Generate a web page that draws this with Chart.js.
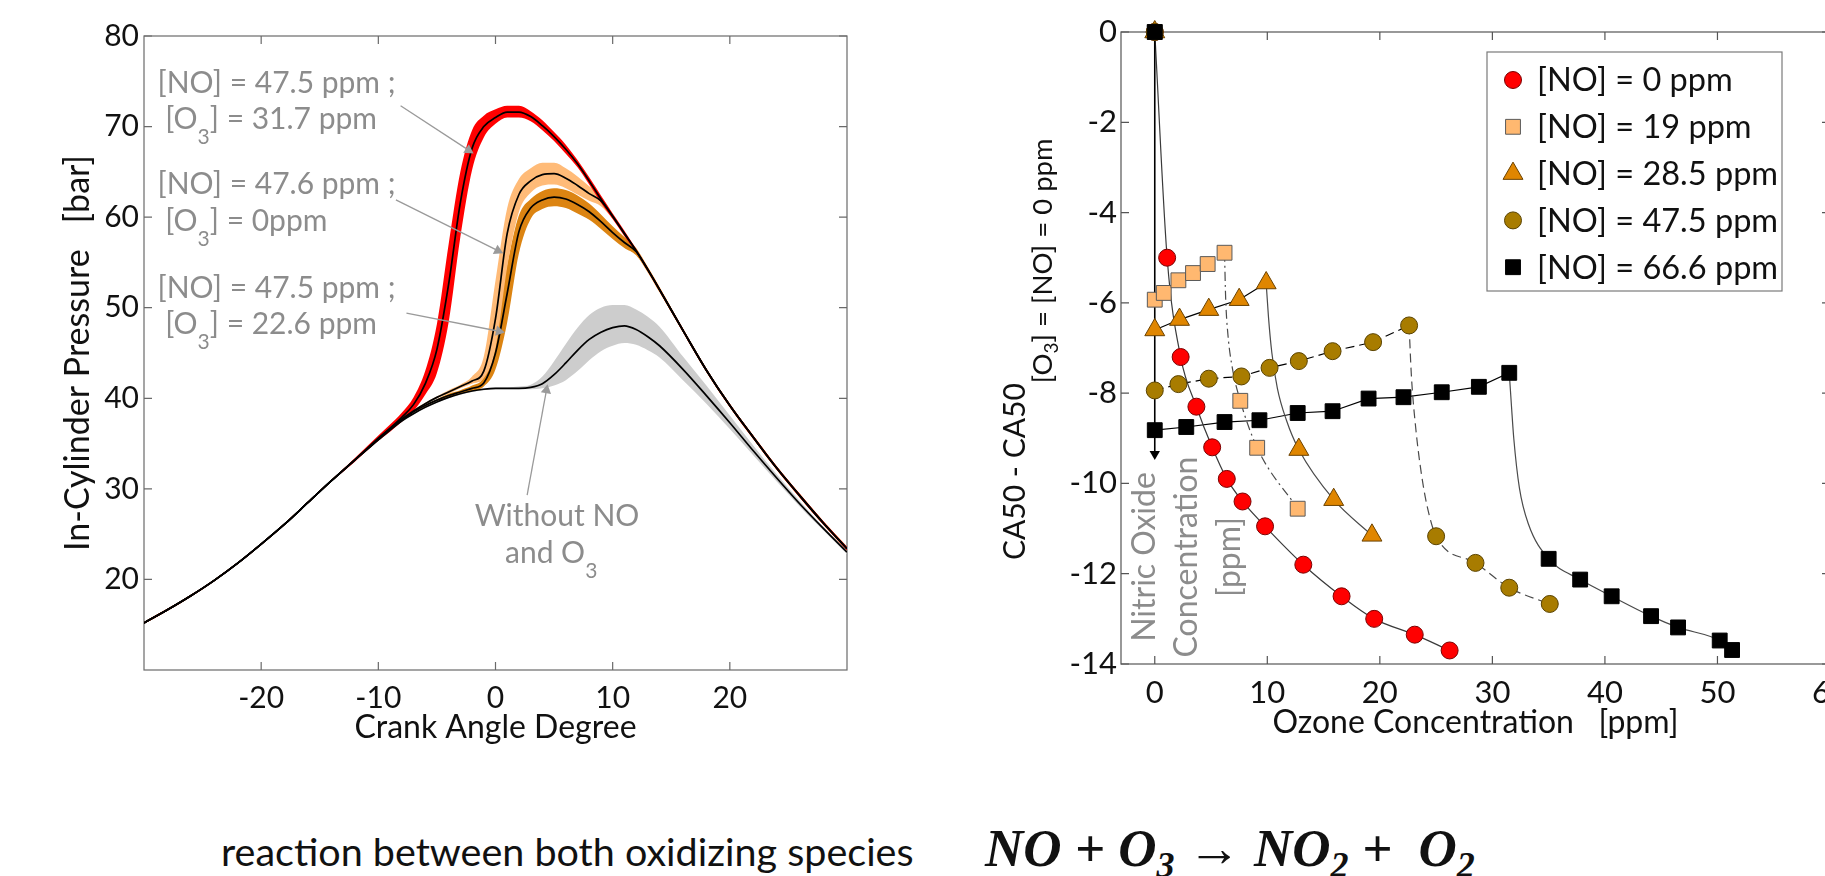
<!DOCTYPE html>
<html>
<head>
<meta charset="utf-8">
<script src="https://cdn.jsdelivr.net/npm/chart.js@4.4.1/dist/chart.umd.min.js"></script>
<style>
  html, body { margin: 0; padding: 0; overflow: hidden; background: #fff; }
  body { position: relative; width: 1825px; height: 876px; }
  .chartBox { position: absolute; top: 0; }
  #pressureBox { left: 0; }
  #ca50Box { left: 940px; }
  .caption { position: absolute; left: 221px; top: 831px; font: 39.5px Lato, sans-serif; line-height: 1; color: #111; white-space: nowrap; }
  .equation { position: absolute; left: 985px; top: 822px; font: italic bold 53px "Liberation Serif", serif; line-height: 1; color: #111; white-space: nowrap; }
  .equation sub { font-size: 0.68em; vertical-align: -0.3em; line-height: 0; }
</style>
</head>
<body>
<div class="chartBox" id="pressureBox"><canvas id="pressureChart" width="900" height="760"></canvas></div>
<div class="chartBox" id="ca50Box"><canvas id="ca50Chart" width="940" height="760"></canvas></div>
<div class="caption">reaction between both oxidizing species</div>
<div class="equation">NO + O<sub>3</sub> → NO<sub>2</sub> + &nbsp;O<sub>2</sub></div>
<script>
// left panel : in-cylinder pressure traces
const crankAngle = [-30, -28, -26, -24, -22, -20, -18, -16, -14, -12, -10,
    -9, -8, -7, -6, -5, -4, -3, -2, -1,
    0, 1, 2, 3, 4, 5, 6, 7, 8, 9, 10, 11, 12, 13, 14,
    16, 18, 20, 22, 24, 26, 28, 30]

const pressureWithout = [15.2, 16.65, 18.2, 19.9, 21.8, 23.9, 26.1, 28.5, 30.9, 33.2, 35.4,
    36.5, 37.5, 38.3, 39.0, 39.6, 40.1, 40.5, 40.8, 41.0,
    41.1, 41.1, 41.1, 41.2, 41.6, 42.6, 43.9, 45.3, 46.5, 47.3, 47.8, 48.0, 47.6, 46.8, 45.8,
    43.2, 40.3, 37.3, 34.2, 31.2, 28.3, 25.6, 23.0]
const pressureWithoutHigh = [15.3, 16.75, 18.3, 20.0, 21.9, 24.0, 26.2, 28.6, 31.0, 33.3, 35.5,
    36.6, 37.6, 38.4, 39.1, 39.7, 40.2, 40.6, 40.9, 41.1,
    41.2, 41.2, 41.3, 41.5, 42.4, 44.1, 46.0, 47.8, 49.2, 50.0, 50.3, 50.3, 49.8, 49.0, 47.9,
    44.6, 41.4, 38.1, 34.8, 31.6, 28.6, 25.8, 23.2]
const pressureWithoutLow = [15.1, 16.55, 18.1, 19.8, 21.7, 23.8, 26.0, 28.4, 30.8, 33.1, 35.3,
    36.4, 37.4, 38.2, 38.9, 39.5, 40.0, 40.4, 40.7, 40.9,
    41.0, 41.0, 41.0, 41.0, 41.1, 41.4, 42.0, 43.0, 44.2, 45.2, 45.8, 46.1, 45.9, 45.3, 44.5,
    42.0, 39.4, 36.6, 33.7, 30.8, 28.0, 25.4, 22.8]

// [NO] = 47.5 ppm ; [O3] = 31.7 ppm
const pressureOzone317 = [15.2, 16.65, 18.2, 19.9, 21.8, 23.9, 26.1, 28.5, 30.9, 33.2, 35.6,
    36.7, 37.9, 39.3, 41.6, 45.4, 52.6, 61.6, 67.6, 70.0,
    71.0, 71.6, 71.6, 71.1, 70.1, 68.9, 67.5, 65.9, 64.0, 62.0, 60.1, 58.2, 56.3, 54.2, 52.0,
    47.5, 43.1, 39.2, 35.7, 32.3, 29.2, 26.2, 23.4]
const pressureOzone317High = [15.3, 16.75, 18.3, 20.0, 21.9, 24.0, 26.2, 28.6, 31.0, 33.4, 35.9,
    37.1, 38.4, 40.1, 43.0, 48.2, 57.0, 65.0, 69.6, 71.2,
    71.9, 72.3, 72.3, 71.7, 70.7, 69.4, 68.0, 66.3, 64.4, 62.4, 60.4, 58.5, 56.5, 54.4, 52.2,
    47.7, 43.3, 39.4, 35.9, 32.5, 29.4, 26.4, 23.6]
const pressureOzone317Low = [15.1, 16.55, 18.1, 19.8, 21.7, 23.8, 26.0, 28.4, 30.8, 33.0, 35.3,
    36.3, 37.4, 38.6, 40.4, 42.8, 48.4, 57.8, 65.2, 68.8,
    70.3, 71.0, 71.0, 70.6, 69.6, 68.4, 67.0, 65.5, 63.6, 61.6, 59.8, 57.9, 56.1, 54.0, 51.8,
    47.3, 42.9, 39.0, 35.5, 32.1, 29.0, 26.0, 23.2]

// [NO] = 47.6 ppm ; [O3] = 0 ppm
const pressureOzone0 = [15.2, 16.65, 18.2, 19.9, 21.8, 23.9, 26.1, 28.5, 30.9, 33.2, 35.5,
    36.6, 37.7, 38.6, 39.4, 40.1, 40.7, 41.3, 41.9, 43.0,
    48.8, 58.2, 62.5, 64.0, 64.7, 64.8, 64.3, 63.5, 62.6, 61.8, 60.1, 58.2, 56.3, 54.2, 52.0,
    47.5, 43.1, 39.2, 35.7, 32.3, 29.2, 26.2, 23.4]
const pressureOzone0High = [15.3, 16.75, 18.3, 20.0, 21.9, 24.0, 26.2, 28.6, 31.0, 33.3, 35.6,
    36.7, 37.8, 38.7, 39.5, 40.2, 40.9, 41.5, 42.4, 44.6,
    53.0, 61.0, 64.2, 65.4, 66.0, 66.0, 65.4, 64.5, 63.4, 62.3, 60.4, 58.4, 56.5, 54.4, 52.2,
    47.7, 43.3, 39.4, 35.9, 32.5, 29.4, 26.4, 23.6]
const pressureOzone0Low = [15.1, 16.55, 18.1, 19.8, 21.7, 23.8, 26.0, 28.4, 30.8, 33.1, 35.4,
    36.5, 37.6, 38.5, 39.3, 40.0, 40.5, 41.1, 41.6, 42.2,
    45.5, 54.5, 60.6, 62.7, 63.5, 63.6, 63.2, 62.5, 61.8, 61.2, 59.8, 58.0, 56.1, 54.0, 51.8,
    47.3, 42.9, 39.0, 35.5, 32.1, 29.0, 26.0, 23.2]

// [NO] = 47.5 ppm ; [O3] = 22.6 ppm
const pressureOzone226 = [15.2, 16.65, 18.2, 19.9, 21.8, 23.9, 26.1, 28.5, 30.9, 33.2, 35.5,
    36.6, 37.6, 38.5, 39.2, 39.8, 40.3, 40.7, 41.1, 41.7,
    45.0, 51.6, 58.4, 61.0, 61.9, 62.2, 62.0, 61.4, 60.6, 59.5, 58.3, 57.2, 56.2, 54.2, 52.0,
    47.5, 43.1, 39.2, 35.7, 32.3, 29.2, 26.2, 23.4]
const pressureOzone226High = [15.3, 16.75, 18.3, 20.0, 21.9, 24.0, 26.2, 28.6, 31.0, 33.3, 35.6,
    36.7, 37.7, 38.6, 39.3, 39.9, 40.5, 40.9, 41.4, 42.4,
    47.8, 54.8, 60.2, 62.0, 62.9, 63.2, 63.0, 62.4, 61.5, 60.3, 59.0, 57.8, 56.6, 54.5, 52.3,
    47.7, 43.3, 39.4, 35.9, 32.5, 29.4, 26.4, 23.6]
const pressureOzone226Low = [15.1, 16.55, 18.1, 19.8, 21.7, 23.8, 26.0, 28.4, 30.8, 33.1, 35.4,
    36.5, 37.5, 38.4, 39.1, 39.7, 40.1, 40.5, 40.8, 41.3,
    43.2, 48.4, 56.0, 59.8, 60.9, 61.2, 61.0, 60.4, 59.7, 58.7, 57.6, 56.6, 55.8, 53.9, 51.7,
    47.3, 42.9, 39.0, 35.5, 32.1, 29.0, 26.0, 23.2]

const angleTicks = [-20, -10, 0, 10, 20]
const pressureTicks = [20, 30, 40, 50, 60, 70, 80]

// arrows of the text notes : [start, tip]
const arrowOzone317 = {angle: [-8.1, -2.3], pressure: [72.3, 67.4]}
const arrowOzone0 = {angle: [-8.5, 0.2], pressure: [61.9, 56.3]}
const arrowOzone226 = {angle: [-7.6, 0.3], pressure: [49.4, 47.4]}
const arrowWithout = {angle: [2.7, 4.35], pressure: [29.3, 40.9]}

// right panel : CA50 shift against ozone
const ozoneNo0 = [0, 1.1, 2.3, 3.7, 5.1, 6.4, 7.8, 9.8, 13.2, 16.6, 19.5, 23.1, 26.2]
const ca50No0 = [0, -5.0, -7.2, -8.3, -9.2, -9.9, -10.4, -10.95, -11.8, -12.5, -13.0, -13.35, -13.7]

const ozoneNo19 = [0, 0, 0.8, 2.1, 3.4, 4.7, 6.2, 7.6, 9.1, 12.7]
const ca50No19 = [0, -5.93, -5.78, -5.5, -5.34, -5.14, -4.89, -8.17, -9.21, -10.56]
const fitOzoneNo19 = [6.2, 6.3, 6.5, 6.9, 7.6, 9.1, 12.7]
const fitCa50No19 = [-4.89, -5.9, -6.7, -7.45, -8.17, -9.21, -10.56]

const ozoneNo28 = [0, 0, 2.2, 4.8, 7.5, 9.9, 12.8, 15.9, 19.3]
const ca50No28 = [0, -6.6, -6.37, -6.15, -5.93, -5.56, -9.25, -10.36, -11.15]
const fitOzoneNo28 = [9.9, 10.1, 10.4, 10.9, 11.7, 12.8, 15.9, 19.3]
const fitCa50No28 = [-5.56, -6.3, -7.1, -7.9, -8.6, -9.25, -10.36, -11.15]

const ozoneNo47 = [0, 0, 2.1, 4.8, 7.7, 10.2, 12.8, 15.8, 19.4, 22.6, 25.0, 28.5, 31.5, 35.1]
const ca50No47 = [0, -7.94, -7.8, -7.68, -7.63, -7.44, -7.29, -7.07, -6.87, -6.5, -11.17, -11.76, -12.31, -12.67]
const fitOzoneNo47 = [22.6, 22.8, 23.2, 23.7, 24.2, 25.0, 28.5, 31.5, 35.1]
const fitCa50No47 = [-6.5, -7.6, -8.8, -9.8, -10.5, -11.17, -11.76, -12.31, -12.67]

const ozoneNo66 = [0, 0, 2.8, 6.2, 9.3, 12.7, 15.8, 19.0, 22.1, 25.5, 28.8, 31.5, 35.0, 37.8, 40.6, 44.1, 46.5, 50.2, 51.3]
const ca50No66 = [0, -8.82, -8.75, -8.64, -8.6, -8.44, -8.4, -8.12, -8.09, -7.98, -7.86, -7.55, -11.67, -12.13, -12.5, -12.94, -13.19, -13.48, -13.69]
const fitOzoneNo66 = [31.5, 31.7, 31.9, 32.4, 33.2, 35.0, 37.8, 40.6, 44.1, 46.5, 50.2, 51.3]
const fitCa50No66 = [-7.55, -8.3, -9.0, -10.1, -10.9, -11.67, -12.13, -12.5, -12.94, -13.19, -13.48, -13.69]

const noAxisOzone = [0, 0]
const noAxisCa50 = [0, -9.35]

const noLabels = ['[NO] = 0 ppm', '[NO] = 19 ppm', '[NO] = 28.5 ppm', '[NO] = 47.5 ppm', '[NO] = 66.6 ppm']
const ozoneTicks = [0, 10, 20, 30, 40, 50, 60]
const ca50Ticks = [0, -2, -4, -6, -8, -10, -12, -14]

const seriesStyles = [
    {shape: 'circle', radius: 8.5, fill: '#ff0000', edge: '#7a0000'},
    {shape: 'rect', radius: 10.5, fill: '#ffb870', edge: '#5a5a5a'},
    {shape: 'triangle', radius: 11.5, fill: '#e08600', edge: '#6b4200'},
    {shape: 'circle', radius: 8.5, fill: '#a87c00', edge: '#5a4300'},
    {shape: 'rect', radius: 10.5, fill: '#000000', edge: '#000000'},
]

const fontFamily = 'Lato, "Open Sans", sans-serif'
const noteGray = '#8c8c8c'

const toPoints = (xs, ys) => xs.map((x, i) => ({x, y: ys[i]}))

// text with sub/superscript levels : parts = [[text, level], ...]
const partsWidth = (ctx, parts, levels) => parts.reduce((sum, [text, level]) => {
    ctx.font = `${levels[level].size}px ${fontFamily}`
    return sum + ctx.measureText(text).width
}, 0)

const drawParts = (ctx, parts, x, y, levels) => {
    let cursor = x
    parts.forEach(([text, level]) => {
        ctx.font = `${levels[level].size}px ${fontFamily}`
        ctx.fillText(text, cursor, y + levels[level].shift)
        cursor += ctx.measureText(text).width
    })
}

const matlabAxes = {
    id: 'matlabAxes',
    beforeDatasetsDraw(chart, args, opts) {
        const {ctx, chartArea: area, scales: {x, y}} = chart
        const len = opts.tickLength
        ctx.save()
        ctx.strokeStyle = opts.color
        ctx.lineWidth = opts.lineWidth
        ctx.strokeRect(area.left, area.top, area.width, area.height)
        ctx.beginPath()
        x.ticks.forEach(t => {
            const px = x.getPixelForValue(t.value)
            ctx.moveTo(px, area.bottom)
            ctx.lineTo(px, area.bottom - len)
            ctx.moveTo(px, area.top)
            ctx.lineTo(px, area.top + len)
        })
        y.ticks.forEach(t => {
            const py = y.getPixelForValue(t.value)
            ctx.moveTo(area.left, py)
            ctx.lineTo(area.left + len, py)
            ctx.moveTo(area.right, py)
            ctx.lineTo(area.right - len, py)
        })
        ctx.stroke()
        ctx.restore()
    }
}

const headRotation = ctx => {
    const {x, y} = ctx.chart.scales
    const data = ctx.dataset.data
    const dx = x.getPixelForValue(data[1].x) - x.getPixelForValue(data[0].x)
    const dy = y.getPixelForValue(data[1].y) - y.getPixelForValue(data[0].y)
    return Math.atan2(dx, -dy) * 180 / Math.PI
}

const bandSets = (high, low, color) => [
    {data: toPoints(crankAngle, high), borderColor: 'rgba(0,0,0,0)', borderWidth: 0, pointRadius: 0,
        cubicInterpolationMode: 'monotone', fill: false, order: 3},
    {data: toPoints(crankAngle, low), borderColor: 'rgba(0,0,0,0)', borderWidth: 0, pointRadius: 0,
        cubicInterpolationMode: 'monotone', fill: '-1', backgroundColor: color, order: 3},
]

const meanSet = values => ({
    data: toPoints(crankAngle, values), borderColor: '#000', borderWidth: 1.7, pointRadius: 0,
    cubicInterpolationMode: 'monotone', fill: false, order: 2
})

const arrowSet = (arrow, color) => ({
    data: toPoints(arrow.angle, arrow.pressure), borderColor: color, borderWidth: 1.3, tension: 0,
    pointRadius: [0, 6], pointStyle: 'triangle', pointBackgroundColor: color, pointBorderWidth: 0,
    pointRotation: headRotation, fill: false, order: 1, clip: false
})

const pressureNoteLevels = [{size: 30, shift: 0}, {size: 21, shift: 15}]
const pressureNotes = [
    {angle: -28.85, pressure: 74.9, parts: [['[NO] = 47.5 ppm ;', 0]]},
    {angle: -28.85, pressure: 70.95, parts: [[' [O', 0], ['3', 1], ['] = 31.7 ppm', 0]]},
    {angle: -28.85, pressure: 63.8, parts: [['[NO] = 47.6 ppm ;', 0]]},
    {angle: -28.85, pressure: 59.7, parts: [[' [O', 0], ['3', 1], ['] = 0ppm', 0]]},
    {angle: -28.85, pressure: 52.3, parts: [['[NO] = 47.5 ppm ;', 0]]},
    {angle: -28.85, pressure: 48.3, parts: [[' [O', 0], ['3', 1], ['] = 22.6 ppm', 0]]},
    {angle: 5.25, pressure: 27.1, parts: [['Without NO', 0]], center: true},
    {angle: 4.75, pressure: 23.0, parts: [['and O', 0], ['3', 1]], center: true},
]

const pressureNotesPlugin = {
    id: 'pressureNotes',
    afterDatasetsDraw(chart) {
        const {ctx, scales: {x, y}} = chart
        ctx.save()
        ctx.fillStyle = noteGray
        ctx.textBaseline = 'alphabetic'
        pressureNotes.forEach(note => {
            let px = x.getPixelForValue(note.angle)
            const py = y.getPixelForValue(note.pressure) + 11
            if (note.center) px -= partsWidth(ctx, note.parts, pressureNoteLevels) / 2
            drawParts(ctx, note.parts, px, py, pressureNoteLevels)
        })
        ctx.restore()
    }
}

const tickFont = size => ({family: fontFamily, size})

new Chart(document.querySelector('#pressureChart'), {
    type: 'line',
    data: {
        datasets: [
            ...bandSets(pressureOzone317High, pressureOzone317Low, '#ff0000'),
            ...bandSets(pressureOzone0High, pressureOzone0Low, '#ffbb78'),
            ...bandSets(pressureOzone226High, pressureOzone226Low, '#dc8412'),
            ...bandSets(pressureWithoutHigh, pressureWithoutLow, '#cdcdcd'),
            meanSet(pressureOzone317),
            meanSet(pressureOzone0),
            meanSet(pressureOzone226),
            meanSet(pressureWithout),
            arrowSet(arrowOzone317, '#9a9a9a'),
            arrowSet(arrowOzone0, '#9a9a9a'),
            arrowSet(arrowOzone226, '#9a9a9a'),
            arrowSet(arrowWithout, '#9a9a9a'),
        ]
    },
    options: {
        responsive: false,
        animation: false,
        events: [],
        layout: {padding: {top: 36, right: 53, bottom: 0, left: 0}},
        plugins: {
            legend: {display: false},
            tooltip: {enabled: false},
            matlabAxes: {color: '#6a6a6a', lineWidth: 1.2, tickLength: 8},
        },
        scales: {
            x: {
                type: 'linear', min: -30, max: 30,
                afterBuildTicks: scale => { scale.ticks = angleTicks.map(value => ({value})) },
                afterFit: scale => { scale.height = 90 },
                grid: {display: false, drawTicks: false},
                border: {display: false},
                ticks: {font: tickFont(30), color: '#111', padding: 10, maxRotation: 0},
                title: {display: true, text: 'Crank Angle Degree', font: tickFont(32), color: '#111', padding: {top: 0, bottom: 13}}
            },
            y: {
                type: 'linear', min: 10, max: 80,
                afterBuildTicks: scale => { scale.ticks = pressureTicks.map(value => ({value})) },
                afterFit: scale => { scale.width = 144 },
                grid: {display: false, drawTicks: false},
                border: {display: false},
                ticks: {font: tickFont(30), color: '#111', padding: 5},
                title: {display: true, text: 'In-Cylinder Pressure   [bar]', font: tickFont(34), color: '#111', padding: {top: 58, bottom: 0}}
            }
        }
    },
    plugins: [matlabAxes, pressureNotesPlugin]
})

const markerSet = (xs, ys, style, order) => ({
    data: toPoints(xs, ys), showLine: false, pointStyle: style.shape, pointRadius: style.radius,
    pointBackgroundColor: style.fill, pointBorderColor: style.edge, pointBorderWidth: 1, order, clip: false
})

const lineSet = (xs, ys, color, dash, smooth) => ({
    data: toPoints(xs, ys), borderColor: color, borderWidth: 1.2, borderDash: dash, pointRadius: 0,
    tension: 0, cubicInterpolationMode: smooth ? 'monotone' : 'default', fill: false, order: 10, clip: false
})

const dashDot = [9, 4, 2, 4]
const dashed = [9, 5]
const fitGray = '#4a4a4a'

const ca50NoteLevels = [{size: 30, shift: 0}, {size: 27.5, shift: 27}, {size: 19, shift: 33}]
const ca50TitleParts = [['CA50 - CA50', 0], ['[O', 1], ['3', 2], ['] = [NO] = 0 ppm', 1]]
const nitricNote = [
    {text: 'Nitric Oxide', ozone: -1.0, ca50: -11.63},
    {text: 'Concentration', ozone: 2.75, ca50: -11.63},
    {text: '[ppm]', ozone: 6.55, ca50: -11.63},
]

const ca50Texts = {
    id: 'ca50Texts',
    afterDraw(chart) {
        const {ctx, chartArea: area, scales: {x, y}} = chart
        ctx.save()
        ctx.fillStyle = '#111'
        ctx.textBaseline = 'alphabetic'
        ctx.translate(area.left - 96, area.top + 528)
        ctx.rotate(-Math.PI / 2)
        drawParts(ctx, ca50TitleParts, 0, 0, ca50NoteLevels)
        ctx.restore()

        nitricNote.forEach(line => {
            ctx.save()
            ctx.fillStyle = noteGray
            ctx.font = `32px ${fontFamily}`
            ctx.textAlign = 'center'
            ctx.translate(x.getPixelForValue(line.ozone), y.getPixelForValue(line.ca50))
            ctx.rotate(-Math.PI / 2)
            ctx.fillText(line.text, 0, 11.5)
            ctx.restore()
        })

        // legend box
        const left = area.right - 343
        const top = area.top + 20
        ctx.save()
        ctx.fillStyle = '#fff'
        ctx.fillRect(left, top, 295, 239)
        ctx.strokeStyle = '#7a7a7a'
        ctx.lineWidth = 1.2
        ctx.strokeRect(left, top, 295, 239)
        ctx.textBaseline = 'middle'
        seriesStyles.forEach((style, i) => {
            const rowY = top + 28 + i * 46.8
            ctx.fillStyle = style.fill
            ctx.strokeStyle = style.edge
            ctx.lineWidth = 1
            Chart.helpers.drawPoint(ctx, {pointStyle: style.shape, radius: style.radius, borderWidth: 1}, left + 26, rowY)
            ctx.fillStyle = '#111'
            ctx.font = `32.5px ${fontFamily}`
            ctx.fillText(noLabels[i], left + 50, rowY + 1)
        })
        ctx.restore()
    }
}

new Chart(document.querySelector('#ca50Chart'), {
    type: 'line',
    data: {
        datasets: [
            markerSet(ozoneNo66, ca50No66, seriesStyles[4], 1),
            markerSet(ozoneNo47, ca50No47, seriesStyles[3], 2),
            markerSet(ozoneNo28, ca50No28, seriesStyles[2], 3),
            markerSet(ozoneNo19, ca50No19, seriesStyles[1], 4),
            markerSet(ozoneNo0, ca50No0, seriesStyles[0], 5),
            lineSet(ozoneNo0, ca50No0, '#3a3a3a', [], true),
            lineSet(ozoneNo19.slice(1, 7), ca50No19.slice(1, 7), '#000', dashDot, false),
            lineSet(fitOzoneNo19, fitCa50No19, fitGray, dashDot, true),
            lineSet(ozoneNo28.slice(1, 6), ca50No28.slice(1, 6), '#000', [], false),
            lineSet(fitOzoneNo28, fitCa50No28, fitGray, [], true),
            lineSet(ozoneNo47.slice(1, 10), ca50No47.slice(1, 10), '#000', dashed, false),
            lineSet(fitOzoneNo47, fitCa50No47, fitGray, dashed, true),
            lineSet(ozoneNo66.slice(1, 12), ca50No66.slice(1, 12), '#000', [], false),
            lineSet(fitOzoneNo66, fitCa50No66, fitGray, [], true),
            {
                data: toPoints(noAxisOzone, noAxisCa50), borderColor: '#000', borderWidth: 1.6, tension: 0,
                pointRadius: [0, 6], pointStyle: 'triangle', pointRotation: 180,
                pointBackgroundColor: '#000', pointBorderWidth: 0, fill: false, order: 9, clip: false
            },
        ]
    },
    options: {
        responsive: false,
        animation: false,
        events: [],
        layout: {padding: {top: 32, right: 50, bottom: 0, left: 0}},
        plugins: {
            legend: {display: false},
            tooltip: {enabled: false},
            matlabAxes: {color: '#555', lineWidth: 1.2, tickLength: 8},
        },
        scales: {
            x: {
                type: 'linear', min: -3, max: 60,
                afterBuildTicks: scale => { scale.ticks = ozoneTicks.map(value => ({value})) },
                afterFit: scale => { scale.height = 96 },
                grid: {display: false, drawTicks: false},
                border: {display: false},
                ticks: {font: tickFont(31), color: '#111', padding: 10, maxRotation: 0},
                title: {display: true, text: 'Ozone Concentration   [ppm]', font: tickFont(32), color: '#111', padding: {top: 0, bottom: 18}}
            },
            y: {
                type: 'linear', min: -14, max: 0,
                afterBuildTicks: scale => { scale.ticks = ca50Ticks.map(value => ({value})) },
                afterFit: scale => { scale.width = 181 },
                grid: {display: false, drawTicks: false},
                border: {display: false},
                ticks: {font: tickFont(31), color: '#111', padding: 4}
            }
        }
    },
    plugins: [matlabAxes, ca50Texts]
})
</script>
</body>
</html>
